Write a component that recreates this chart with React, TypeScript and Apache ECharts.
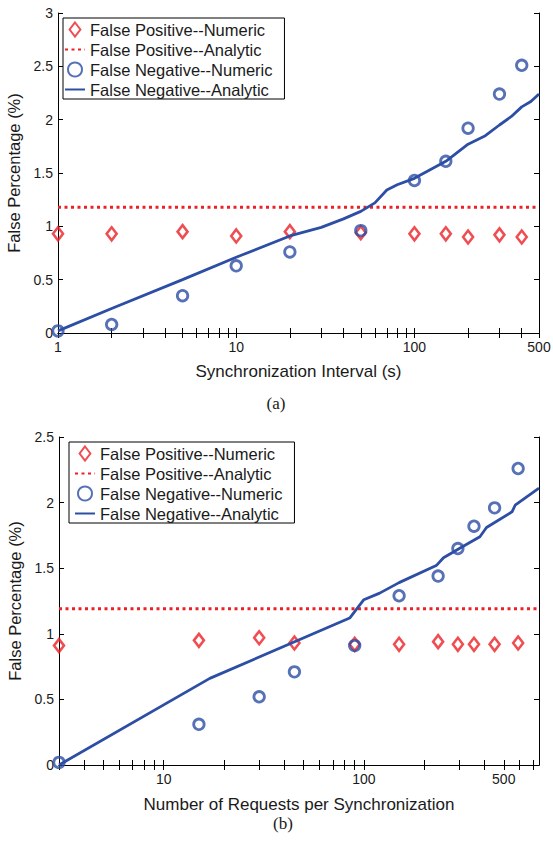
import React, { useEffect, useRef } from "react";
import * as echarts from "echarts";

// ---- (a) Synchronization interval ----
const topX = [1, 2, 5, 10, 20, 50, 100, 150, 200, 300, 400];
const topFPNumeric = [0.93, 0.93, 0.95, 0.91, 0.95, 0.94, 0.93, 0.93, 0.9, 0.92, 0.9];
const topFNNumeric = [0.02, 0.08, 0.35, 0.63, 0.76, 0.96, 1.43, 1.61, 1.92, 2.24, 2.51];
const topFPAnalyticX = [1, 500];
const topFPAnalytic = [1.18, 1.18];
const topFNAnalyticX = [1, 2, 5, 10, 20, 30, 40, 50, 60, 70, 80, 100, 150, 200, 250, 300, 350, 400, 450, 500];
const topFNAnalytic = [0.02, 0.23, 0.5, 0.71, 0.91, 0.99, 1.07, 1.14, 1.22, 1.34, 1.39, 1.45, 1.61, 1.77, 1.85, 1.95, 2.03, 2.12, 2.17, 2.24];
const topXLabels = [1, 10, 100, 500];
const topXTicks = [1, 2, 3, 4, 5, 6, 7, 8, 9, 10, 20, 30, 40, 50, 60, 70, 80, 90, 100, 200, 300, 400, 500];

// ---- (b) Number of requests per synchronization ----
const botX = [3, 15, 30, 45, 90, 150, 235, 295, 355, 450, 590];
const botFPNumeric = [0.91, 0.95, 0.97, 0.93, 0.92, 0.92, 0.94, 0.92, 0.92, 0.92, 0.93];
const botFNNumeric = [0.02, 0.31, 0.52, 0.71, 0.91, 1.29, 1.44, 1.65, 1.82, 1.96, 2.26];
const botFPAnalyticX = [3, 750];
const botFPAnalytic = [1.19, 1.19];
const botFNAnalyticX = [3, 17, 85, 100, 120, 150, 230, 250, 300, 380, 410, 550, 570, 750];
const botFNAnalytic = [0.0, 0.66, 1.12, 1.26, 1.31, 1.39, 1.52, 1.58, 1.65, 1.74, 1.81, 1.93, 1.98, 2.11];
const botXLabels = [10, 100, 500];
const botXTicks = [3, 4, 5, 6, 7, 8, 9, 10, 20, 30, 40, 50, 60, 70, 80, 90, 100, 200, 300, 400, 500, 600, 700];

const names = [
  "False Positive--Numeric",
  "False Positive--Analytic",
  "False Negative--Numeric",
  "False Negative--Analytic",
];

const RED = "#ec2027";
const BLUE = "#2d4ea5";
const FONT = "Liberation Sans, Arial, Helvetica, sans-serif";
const TXT = "#1a1a1a";
const DIAMOND = "path://M5,0L10,6.5L5,13L0,6.5Z";

const zip = (xs: number[], ys: number[]) => xs.map((x, i) => [x, ys[i]]);

function xAxes(grid: number, min: number, max: number, labels: number[], ticks: number[], name: string, gap: number) {
  const common = {
    type: "log",
    logBase: 10,
    gridIndex: grid,
    min,
    max,
    splitLine: { show: false },
    minorTick: { show: false },
    axisLine: { show: true, lineStyle: { color: "#000", width: 1 } },
    axisTick: { show: true, inside: true, length: 5, customValues: ticks, lineStyle: { color: "#000" } },
  };
  return [
    {
      ...common,
      position: "bottom",
      axisLabel: { customValues: labels, fontSize: 14, fontFamily: FONT, color: TXT, margin: 7 },
      name,
      nameLocation: "middle",
      nameGap: gap,
      nameTextStyle: { fontSize: 17, fontFamily: FONT, color: TXT },
    },
    { ...common, position: "top", axisLabel: { show: false } },
  ];
}

function yAxes(grid: number, max: number) {
  const common = {
    type: "value",
    gridIndex: grid,
    min: 0,
    max,
    interval: 0.5,
    splitLine: { show: false },
    axisLine: { show: true, lineStyle: { color: "#000", width: 1 } },
    axisTick: { show: true, inside: true, length: 5, lineStyle: { color: "#000" } },
  };
  return [
    {
      ...common,
      position: "left",
      axisLabel: { fontSize: 14, fontFamily: FONT, color: TXT, margin: 5 },
      name: "False Percentage (%)",
      nameLocation: "middle",
      nameGap: 33,
      nameTextStyle: { fontSize: 16.5, fontFamily: FONT, color: TXT },
    },
    { ...common, position: "right", axisLabel: { show: false } },
  ];
}

function seriesFor(xi: number, yi: number, nx: number[], fp: number[], fn: number[], fax: number[], fa: number[], nax: number[], na: number[]) {
  return [
    {
      type: "scatter",
      name: names[0],
      xAxisIndex: xi,
      yAxisIndex: yi,
      data: zip(nx, fp),
      symbol: DIAMOND,
      symbolSize: [10, 13],
      itemStyle: { color: "rgba(255,255,255,0)", borderColor: RED, borderWidth: 2.6 },
    },
    {
      type: "line",
      name: names[1],
      xAxisIndex: xi,
      yAxisIndex: yi,
      data: zip(fax, fa),
      symbol: "none",
      lineStyle: { color: RED, width: 3, type: [3, 3.5] },
      itemStyle: { color: RED },
    },
    {
      type: "scatter",
      name: names[2],
      xAxisIndex: xi,
      yAxisIndex: yi,
      data: zip(nx, fn),
      symbol: "circle",
      symbolSize: 10.5,
      itemStyle: { color: "rgba(255,255,255,0)", borderColor: BLUE, borderWidth: 2.8 },
    },
    {
      type: "line",
      name: names[3],
      xAxisIndex: xi,
      yAxisIndex: yi,
      data: zip(nax, na),
      symbol: "none",
      lineStyle: { color: BLUE, width: 2.8 },
      itemStyle: { color: BLUE },
    },
  ];
}

function legendAt(left: number, top: number, padL: number) {
  return {
    orient: "vertical",
    left,
    top,
    data: [
      { name: names[0] },
      { name: names[1], itemStyle: { opacity: 0 } },
      { name: names[2] },
      { name: names[3], itemStyle: { opacity: 0 } },
    ],
    itemWidth: 20,
    itemHeight: 14,
    itemGap: 3,
    padding: [3, 12, 1, padL],
    borderColor: "#000",
    borderWidth: 1,
    backgroundColor: "#fff",
    selectedMode: false,
    textStyle: { fontSize: 16.5, fontFamily: FONT, color: TXT },
  };
}

export default function App() {
  const ref = useRef<HTMLDivElement>(null);
  useEffect(() => {
    document.body.style.margin = "0";
    const chart = echarts.init(ref.current!, null, { renderer: "svg" });
    const option: any = {
      animation: false,
      backgroundColor: "#fff",
      grid: [
        { left: 58, top: 13, width: 481, height: 320, outerBoundsMode: "none" },
        { left: 59, top: 437, width: 480, height: 328, outerBoundsMode: "none" },
      ],
      xAxis: [
        ...xAxes(0, 1, 500, topXLabels, topXTicks, "Synchronization Interval (s)", 30),
        ...xAxes(1, 3, 750, botXLabels, botXTicks, "Number of Requests per Synchronization", 31),
      ],
      yAxis: [...yAxes(0, 3), ...yAxes(1, 2.5)],
      legend: [legendAt(63, 18, 1), legendAt(69, 442, 5)],
      series: [
        ...seriesFor(0, 0, topX, topFPNumeric, topFNNumeric, topFPAnalyticX, topFPAnalytic, topFNAnalyticX, topFNAnalytic),
        ...seriesFor(2, 2, botX, botFPNumeric, botFNNumeric, botFPAnalyticX, botFPAnalytic, botFNAnalyticX, botFNAnalytic),
      ],
      graphic: [
        {
          type: "text",
          x: 276,
          y: 403,
          style: { text: "(a)", fontSize: 17, fontFamily: "Liberation Serif, Times New Roman, serif", fill: TXT, align: "center", verticalAlign: "middle" },
        },
        {
          type: "text",
          x: 283,
          y: 823,
          style: { text: "(b)", fontSize: 17, fontFamily: "Liberation Serif, Times New Roman, serif", fill: TXT, align: "center", verticalAlign: "middle" },
        },
      ],
    };
    chart.setOption(option);
    return () => chart.dispose();
  }, []);
  return <div ref={ref} style={{ width: 553, height: 846 }} />;
}
